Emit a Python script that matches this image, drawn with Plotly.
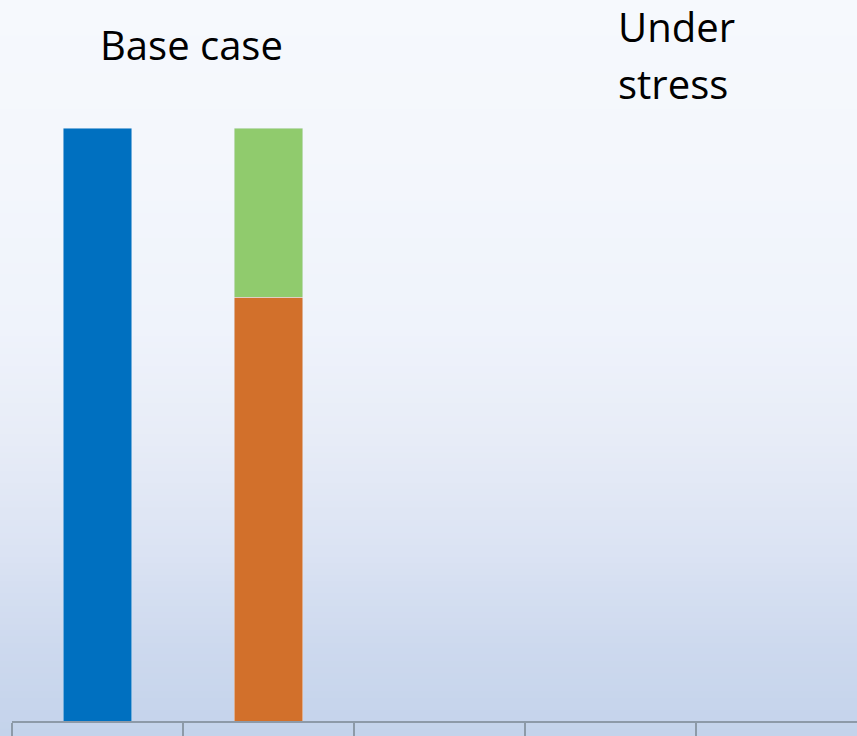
import plotly.graph_objects as go

# Column slots along the bottom row (five cells, only the first two carry bars)
slots = [0, 1, 2, 3, 4]

# Series values per slot
base_total = [100, None, None, None, None]
base_core = [None, 71.5, None, None, None]
base_extra = [None, 28.5, None, None, None]

colors = {"total": "#0070c0", "core": "#d2702b", "extra": "#90cb6d"}

W, H = 857, 736
ML, MB = 12, 15
plot_w = W - ML
slot_px = 171

fig = go.Figure()
fig.add_trace(go.Bar(x=slots, y=base_total, marker_color=colors["total"], width=0.4))
fig.add_trace(go.Bar(x=slots, y=base_core, marker_color=colors["core"], width=0.4))
fig.add_trace(go.Bar(x=slots, y=base_extra, marker_color=colors["extra"], width=0.4))

# Vertical background gradient: pale at the top, light blue at the bottom
stops = [(0.0, (246, 249, 253)), (0.2, (244, 247, 252)), (0.45, (239, 243, 251)),
         (0.6, (231, 236, 247)), (0.75, (219, 227, 243)), (0.88, (205, 217, 238)),
         (1.0, (196, 211, 235))]


def grad(t):
    for (t0, c0), (t1, c1) in zip(stops, stops[1:]):
        if t <= t1:
            f = (t - t0) / (t1 - t0) if t1 > t0 else 0
            return tuple(round(a + (b - a) * f) for a, b in zip(c0, c1))
    return stops[-1][1]


shapes = []
n = 120
ph = H - MB
for i in range(n):
    y_top_px = H * i / n
    y_bot_px = H * (i + 1) / n
    t = (y_top_px + y_bot_px) / 2 / H
    c = grad(t)
    # paper coords: 0 at plot bottom (px = ph), 1 at top (px = 0)
    y0 = (ph - y_bot_px) / ph
    y1 = (ph - y_top_px) / ph + 0.002
    shapes.append(dict(type="rect", xref="paper", yref="paper",
                       x0=-ML / plot_w - 0.01, x1=1.01, y0=y0, y1=y1,
                       fillcolor="rgb(%d,%d,%d)" % c, line_width=0, layer="below"))

ymax = 100 * (H - MB) / 593


def label(text, x_px, top_px, anchor):
    return dict(text=text, xref="paper", yref="paper",
                x=(x_px - ML) / plot_w, y=(ph - top_px) / ph,
                xanchor=anchor, yanchor="top", showarrow=False,
                font=dict(size=40, family="Open Sans", color="#000000"))


fig.update_layout(
    width=W, height=H,
    margin=dict(l=ML, r=0, t=0, b=MB),
    barmode="stack",
    showlegend=False,
    paper_bgcolor="rgb(246,249,253)",
    plot_bgcolor="rgba(0,0,0,0)",
    shapes=shapes,
    xaxis=dict(range=[-0.5, -0.5 + plot_w / slot_px], tickvals=[-0.5, 0.5, 1.5, 2.5, 3.5, 4.5],
               ticks="outside", ticklen=15, tickwidth=1.5, tickcolor="#8d9aa8",
               showticklabels=False, showline=True, linecolor="#8d9aa8", linewidth=1.5,
               showgrid=False, zeroline=False, fixedrange=True),
    yaxis=dict(range=[0, ymax], visible=False, showgrid=False, zeroline=False),
    font=dict(family="Open Sans", color="#000000"),
    annotations=[
        label("Base case", 191, 15, "center"),
        label("Under", 616, -3, "left"),
        label("stress", 616, 54, "left"),
    ],
)

fig.write_html("out.html")
